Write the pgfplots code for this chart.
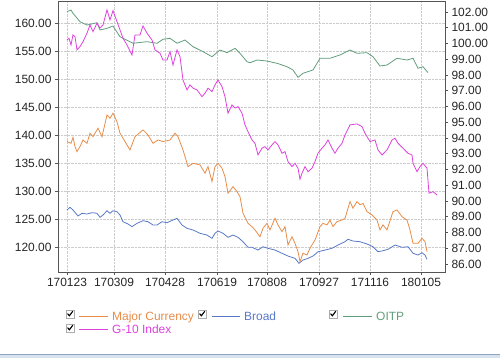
\documentclass[border=0pt]{standalone}
\usepackage{fontspec}
\setmainfont{Liberation Sans}
\usepackage{pgfplots}
\pgfplotsset{compat=1.18}
\definecolor{cMaj}{RGB}{232,140,72}
\definecolor{cBroad}{RGB}{88,120,200}
\definecolor{cOITP}{RGB}{96,158,124}
\definecolor{cGten}{RGB}{222,64,222}
\definecolor{frame}{RGB}{85,85,85}
\definecolor{winline}{RGB}{140,165,195}
\definecolor{winfill}{RGB}{215,226,238}
\newcommand{\chk}[2]{%
  \draw[gray!65, fill=white, line width=0.6pt] (#1,#2) rectangle ++(8,8);
  \draw[black, line width=1.1pt] (#1+1.6,#2+4.4) -- (#1+3.4,#2+2.2) -- (#1+6.8,#2+6.8);}
\begin{document}
\begin{tikzpicture}
\useasboundingbox (0bp,0bp) rectangle (500bp,358bp);
\pgfplotsset{
  base/.style={
    at={(58bp,86bp)}, anchor=south west,
    width=387bp, height=270bp, scale only axis,
    xmin=-9, xmax=378,
    tick label style={font=\fontsize{12}{14}\selectfont, text=black!85},
    yticklabel style={/pgf/number format/fixed, /pgf/number format/fixed zerofill,
      /pgf/number format/precision=2, /pgf/number format/assume math mode=true},
    tick align=outside, major tick length=3bp,
    axis line style={frame, line width=1pt},
    every tick/.style={frame, line width=0.6pt},
    minor tick num=0,
  }
}
% left axis: OITP, Broad
\begin{axis}[base,
  ymin=115.54, ymax=163.75,
  ytick={120,125,...,160},
  xtick={0,47,98,150,200,252,303,354},
  xticklabels={170123,170309,170428,170619,170808,170927,171116,180105},
  xtick pos=left, ytick pos=left,
  grid=major, grid style={densely dotted, gray!40, line width=0.6pt},
]
\addplot[cOITP, line width=0.8pt] coordinates {
(0,162.02)(4,162.32)(6,161.73)(13,160.23)(20,159.64)(30,160.05)(33,158.75)(40,159.05)
(46,159.46)(53,157.55)(66,156.38)(80,156.66)(90,156.38)(96,157.09)(103,157.27)(110,156.38)
(118,156.96)(126,155.77)(136,154.88)(145,153.98)(153,155.18)(160,154.70)(168,155.48)
(173,154.59)(180,153.09)(183,152.91)(190,153.39)(200,153.21)(210,152.80)(220,152.20)
(226,151.61)(231,150.30)(236,151.02)(246,151.61)(253,153.70)(263,153.70)(273,154.29)
(283,155.18)(290,154.59)(300,154.70)(306,153.98)(313,152.32)(320,152.50)(330,153.70)
(340,153.39)(346,153.70)(351,151.91)(356,152.20)(361,151.13)
};
\addplot[cBroad, line width=0.8pt] coordinates {
(0,126.61)(3,127.09)(6,126.61)(11,125.54)(15,126.02)(20,125.89)(25,126.13)(30,126.02)
(33,125.30)(36,125.71)(40,126.48)(43,126.02)(46,126.48)(50,126.30)(53,125.71)(56,124.52)
(61,124.11)(65,123.63)(70,124.23)(76,124.70)(81,124.52)(86,123.93)(90,123.93)(95,124.52)
(100,124.34)(106,124.82)(110,125.13)(115,123.93)(120,123.34)(126,123.04)(133,122.45)
(140,122.14)(145,121.55)(148,122.45)(151,122.86)(156,122.45)(161,121.73)(166,122.14)
(171,121.73)(176,120.95)(181,119.95)(185,119.95)(191,119.46)(196,120.05)(201,119.77)
(208,119.46)(215,118.88)(221,118.39)(228,117.98)(232,117.09)(236,117.68)(241,117.98)
(246,118.39)(251,119.16)(258,119.46)(265,119.77)(271,120.36)(278,120.95)(281,121.38)
(286,121.07)(293,120.95)(300,120.54)(306,120.05)(311,119.16)(316,119.34)(321,119.59)
(328,120.36)(335,119.95)(341,120.05)(346,118.88)(351,118.57)(355,118.98)(358,118.57)
(360,117.80)
};
\end{axis}
% right axis: Major Currency, G-10 Index
\begin{axis}[base,
  ymin=85.49, ymax=102.63,
  ytick={86,87,...,102},
  axis y line*=right, axis x line=none,
]
\addplot[cMaj, line width=0.8pt] coordinates {
(0,93.77)(4,93.66)(6,94.04)(8,93.45)(10,93.13)(13,93.45)(16,93.87)(20,93.66)(23,94.30)
(26,94.08)(31,94.62)(35,94.08)(40,95.46)(43,95.25)(46,95.57)(50,95.03)(53,94.30)(58,93.77)
(63,93.24)(68,94.08)(76,94.51)(81,94.19)(86,93.66)(91,93.87)(96,93.77)(103,93.87)
(108,94.30)(111,94.08)(116,93.24)(121,92.18)(126,92.39)(133,92.29)(138,91.76)(141,92.18)
(145,91.23)(148,92.18)(151,92.39)(155,92.08)(158,91.54)(161,90.49)(166,90.91)(170,90.59)
(173,90.27)(176,89.22)(181,88.58)(185,88.37)(188,88.16)(193,87.73)(196,88.27)(200,88.58)
(203,88.16)(208,88.90)(211,88.48)(215,88.05)(218,88.37)(221,87.21)(225,87.73)(228,87.31)
(231,86.78)(233,86.15)(236,86.68)(240,86.57)(243,87.00)(248,87.52)(253,88.37)(256,88.58)
(260,88.48)(263,88.79)(266,88.37)(270,88.69)(275,88.79)(278,88.90)(283,89.96)(286,89.54)
(290,89.96)(293,89.75)(296,89.85)(300,89.32)(305,89.11)(310,88.79)(313,88.16)(316,88.48)
(320,88.16)(326,89.32)(330,89.43)(335,89.00)(340,88.79)(343,88.16)(346,87.31)(351,87.31)
(355,87.63)(358,87.42)(360,86.78)
};
\addplot[cGten, line width=0.8pt] coordinates {
(0,100.22)(2,100.33)(4,99.90)(6,100.54)(8,100.43)(10,99.59)(13,99.80)(16,100.11)(20,100.65)
(23,101.17)(26,100.75)(30,101.28)(33,100.97)(36,101.17)(40,102.13)(43,101.49)(46,102.08)
(50,101.38)(53,100.86)(56,100.33)(60,99.90)(65,99.27)(68,100.54)(73,100.54)(76,101.11)
(80,100.65)(85,100.22)(88,99.59)(93,99.38)(96,98.95)(100,98.95)(103,99.48)(106,98.63)
(110,99.59)(113,99.16)(116,97.68)(120,97.05)(123,97.37)(126,97.16)(130,97.05)(135,96.62)
(138,96.84)(141,97.16)(145,96.94)(148,97.37)(151,97.68)(155,97.26)(158,96.62)(161,95.57)
(165,96.10)(168,95.89)(171,95.99)(175,95.57)(178,94.83)(181,94.40)(185,93.87)(188,93.66)
(191,92.92)(195,93.35)(198,93.45)(201,93.24)(205,93.56)(208,93.77)(211,93.56)(215,93.03)
(218,93.13)(221,92.50)(225,92.18)(228,92.39)(231,92.08)(233,91.38)(235,91.76)(238,92.18)
(241,91.86)(245,92.08)(248,92.50)(251,93.03)(255,93.35)(258,93.56)(261,93.87)(265,93.35)
(268,93.03)(271,93.35)(275,93.66)(278,94.19)(283,94.83)(290,94.89)(295,94.72)(298,94.30)
(303,93.77)(308,93.87)(311,93.24)(315,92.92)(320,93.24)(325,93.87)(328,93.98)(331,93.66)
(336,93.35)(341,93.03)(345,92.92)(346,92.39)(350,91.86)(353,92.18)(356,92.39)(360,92.08)
(362,90.49)(366,90.59)(370,90.38)
};
\end{axis}
% legend
\begin{scope}[x=1bp,y=1bp]
\chk{66}{40}
\draw[cMaj, line width=0.8pt] (79,42) -- (108,42);
\node[anchor=base west, inner sep=0, text=cMaj, font=\fontsize{12}{14}\selectfont] at (112,37.7) {Major Currency};
\chk{198}{40}
\draw[cBroad, line width=0.8pt] (212,42) -- (240,42);
\node[anchor=base west, inner sep=0, text=cBroad, font=\fontsize{12}{14}\selectfont] at (244,37.7) {Broad};
\chk{329}{40}
\draw[cOITP, line width=0.8pt] (343,42) -- (372,42);
\node[anchor=base west, inner sep=0, text=cOITP, font=\fontsize{12}{14}\selectfont] at (376,37.7) {OITP};
\chk{66}{26}
\draw[cGten, line width=0.8pt] (79,29) -- (108,29);
\node[anchor=base west, inner sep=0, text=cGten, font=\fontsize{12}{14}\selectfont] at (112,24.7) {G-10 Index};
% window edge
\fill[winfill] (0,0) rectangle (500,3);
\draw[winline, line width=1.2pt] (0,3.6) -- (500,3.6);
\end{scope}
\end{tikzpicture}
\end{document}
